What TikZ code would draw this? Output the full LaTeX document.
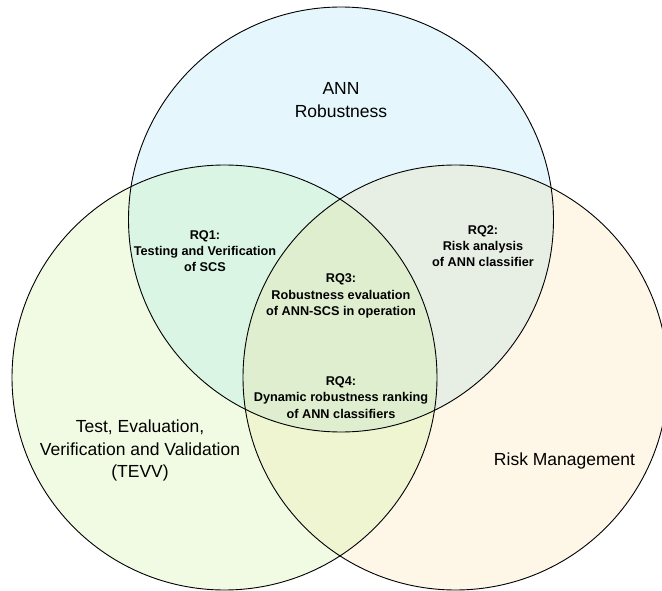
\documentclass[tikz,border=0pt]{standalone}
\usepackage{fontspec}
\setmainfont{Liberation Sans}
\definecolor{topfill}{HTML}{E5F6FD}
\definecolor{leftfill}{HTML}{F1FBE3}
\definecolor{rightfill}{HTML}{FEF6E7}
\definecolor{tlfill}{HTML}{DBF5E4}
\definecolor{trfill}{HTML}{E7EFE5}
\definecolor{lrfill}{HTML}{F0F5D1}
\definecolor{allfill}{HTML}{DEEECE}
\begin{document}
\begin{tikzpicture}[x=1pt,y=-1pt,
  ring/.style={draw=black,line width=0.9pt},
  biglabel/.style={font=\fontsize{17.5}{22.6}\selectfont,align=center,inner sep=0pt},
  rqlabel/.style={font=\bfseries\fontsize{12.7}{16.3}\selectfont,align=center,inner sep=0pt}]
\useasboundingbox (0,0) rectangle (662,591);
\clip (0,0) rectangle (662,591);
\def\R{212.5}
% circle centres
\coordinate (ct) at (341,219.5);
\coordinate (cl) at (224.5,377.5);
\coordinate (cr) at (455.5,377.5);
% single-set areas
\fill[topfill] (ct) circle[radius=\R];
\fill[leftfill] (cl) circle[radius=\R];
\fill[rightfill] (cr) circle[radius=\R];
% pairwise overlaps
\begin{scope}
  \clip (ct) circle[radius=\R];
  \fill[tlfill] (cl) circle[radius=\R];
  \fill[trfill] (cr) circle[radius=\R];
\end{scope}
\begin{scope}
  \clip (cl) circle[radius=\R];
  \fill[lrfill] (cr) circle[radius=\R];
\end{scope}
% triple overlap
\begin{scope}
  \clip (ct) circle[radius=\R];
  \clip (cl) circle[radius=\R];
  \fill[allfill] (cr) circle[radius=\R];
\end{scope}
% outlines
\draw[ring] (ct) circle[radius=\R];
\draw[ring] (cl) circle[radius=\R];
\draw[ring] (cr) circle[radius=\R];
% set labels
\node[biglabel] (ann) at (341,100) {ANN\\Robustness};
\node[biglabel] (tevv) at (140,450.5) {Test, Evaluation,\\Verification and Validation\\(TEVV)};
\node[biglabel] (risk) at (564.5,461) {Risk Management};
% research questions
\node[rqlabel] (rq1) at (205,251) {RQ1:\\Testing and Verification\\of SCS};
\node[rqlabel] (rq2) at (483,246) {RQ2:\\Risk analysis\\of ANN classifier};
\node[rqlabel] (rq3) at (341,296) {RQ3:\\Robustness evaluation\\of ANN-SCS in operation};
\node[rqlabel] (rq4) at (341,397.5) {RQ4:\\Dynamic robustness ranking\\of ANN classifiers};
\end{tikzpicture}
\end{document}
